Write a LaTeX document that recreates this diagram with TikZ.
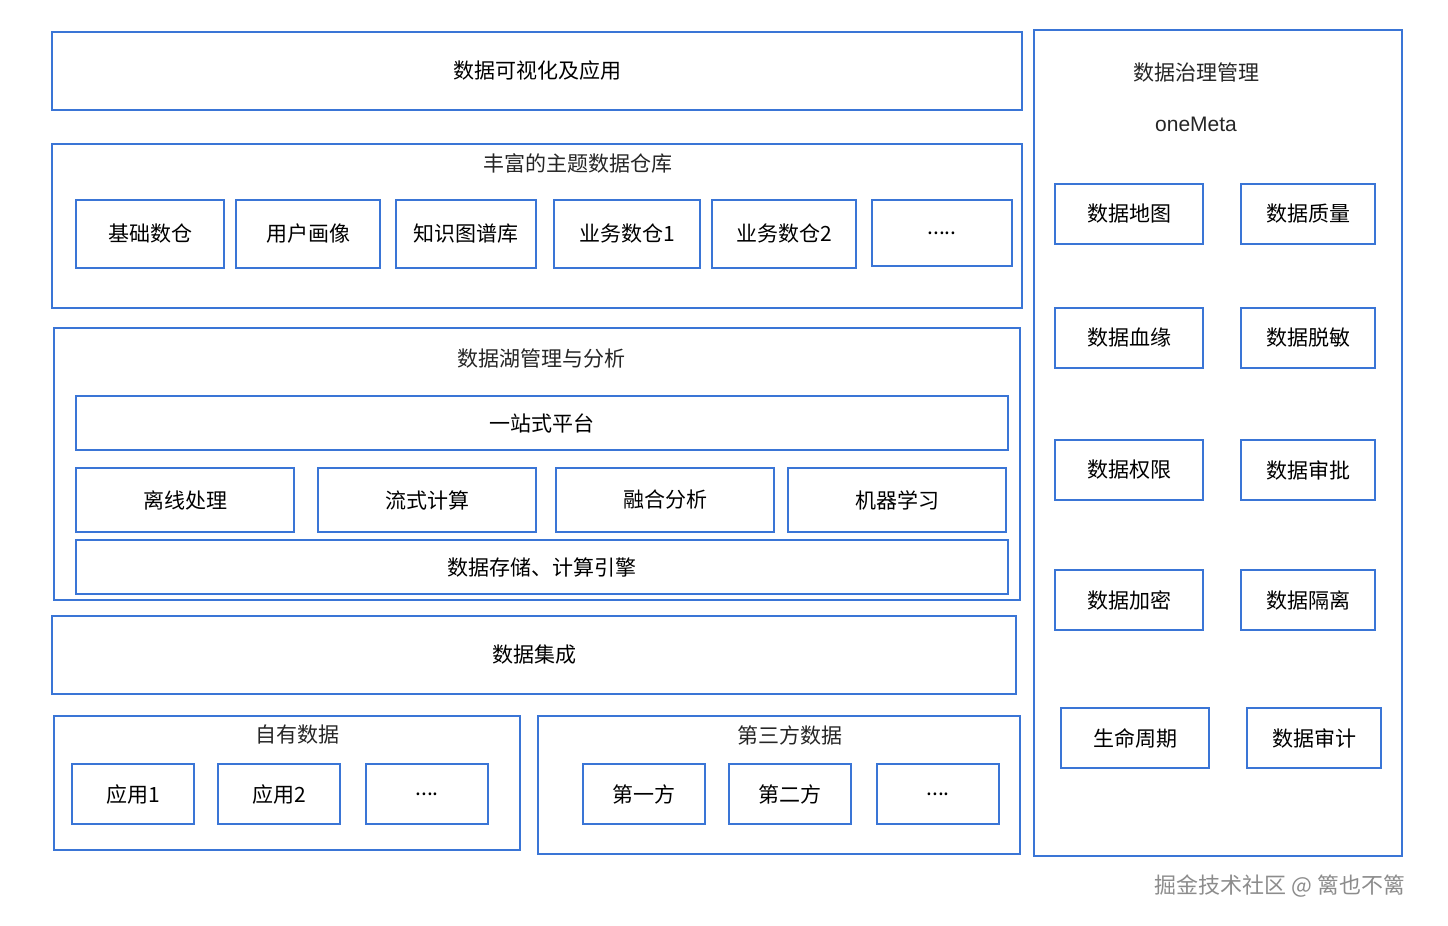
\documentclass[tikz,border=0pt]{standalone}
\usepackage{fontspec}
\setmainfont{Noto Sans CJK SC}
\definecolor{bl}{HTML}{3A75D6}
\newcommand{\bx}[6]{\node[box,minimum width={(#4-#2)*1pt-2pt},minimum height={(#5-#3)*1pt-2pt}] (#1) at ({(#2+#4)/2},{(#3+#5)/2}) {#6};}
\begin{document}
\begin{tikzpicture}[x=1pt,y=-1pt,
  box/.style={draw=bl,line width=2pt,inner sep=0pt,font=\fontsize{21}{25}\selectfont,text=black},
  lbl/.style={font=\fontsize{21}{25}\selectfont,text=black!85}]
\useasboundingbox (0,0) rectangle (1448,926);
\bx{vis}{51}{31}{1023}{111}{数据可视化及应用}
\bx{dw}{51}{143}{1023}{309}{}
\node[lbl] (dwt) at (578,163) {丰富的主题数据仓库};
\bx{a1}{75}{199}{225}{269}{基础数仓}
\bx{a2}{235}{199}{381}{269}{用户画像}
\bx{a3}{395}{199}{537}{269}{知识图谱库}
\bx{a4}{553}{199}{701}{269}{业务数仓1}
\bx{a5}{711}{199}{857}{269}{业务数仓2}
\bx{a6}{871}{199}{1013}{267}{.....}
\bx{lake}{53}{327}{1021}{601}{}
\node[lbl] (laket) at (541,359) {数据湖管理与分析};
\bx{one}{75}{395}{1009}{451}{一站式平台}
\bx{b1}{75}{467}{295}{533}{离线处理}
\bx{b2}{317}{467}{537}{533}{流式计算}
\bx{b3}{555}{467}{775}{533}{融合分析}
\bx{b4}{787}{467}{1007}{533}{机器学习}
\bx{st}{75}{539}{1009}{595}{数据存储、计算引擎}
\bx{int}{51}{615}{1017}{695}{数据集成}
\bx{own}{53}{715}{521}{851}{}
\node[lbl] (ownt) at (297,735) {自有数据};
\bx{c1}{71}{763}{195}{825}{应用1}
\bx{c2}{217}{763}{341}{825}{应用2}
\bx{c3}{365}{763}{489}{825}{....}
\bx{thr}{537}{715}{1021}{855}{}
\node[lbl] (thrt) at (790,735) {第三方数据};
\bx{d1}{582}{763}{706}{825}{第一方}
\bx{d2}{728}{763}{852}{825}{第二方}
\bx{d3}{876}{763}{1000}{825}{....}
\bx{gov}{1033}{29}{1403}{857}{}
\node[lbl] (govt) at (1196,73) {数据治理管理};
\node[lbl,font=\fontsize{21}{25}\selectfont\fontspec{Liberation Sans}] (meta) at (1196,124) {oneMeta};
\bx{g1}{1054}{183}{1204}{245}{数据地图}
\bx{g2}{1240}{183}{1376}{245}{数据质量}
\bx{g3}{1054}{307}{1204}{369}{数据血缘}
\bx{g4}{1240}{307}{1376}{369}{数据脱敏}
\bx{g5}{1054}{439}{1204}{501}{数据权限}
\bx{g6}{1240}{439}{1376}{501}{数据审批}
\bx{g7}{1054}{569}{1204}{631}{数据加密}
\bx{g8}{1240}{569}{1376}{631}{数据隔离}
\bx{g9}{1060}{707}{1210}{769}{生命周期}
\bx{g10}{1246}{707}{1382}{769}{数据审计}
\node[font=\fontsize{22}{26}\selectfont,text=black!45] (wm) at (1280,886) {掘金技术社区 @ 篱也不篱};
\end{tikzpicture}
\end{document}
